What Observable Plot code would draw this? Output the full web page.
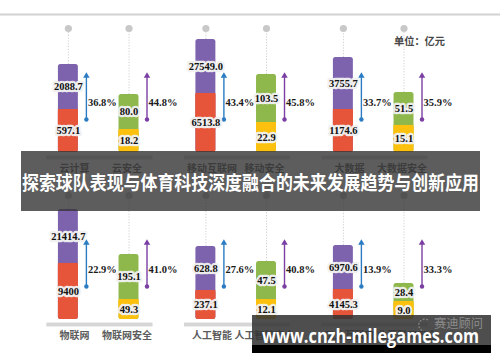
<!DOCTYPE html>
<html>
<head>
<meta charset="utf-8">
<script src="https://cdn.jsdelivr.net/npm/d3@7"></script>
<script src="https://cdn.jsdelivr.net/npm/@observablehq/plot@0.6"></script>
<style>
  html, body { margin: 0; padding: 0; background: #fff; }
  #wrap { position: relative; width: 500px; height: 362px; overflow: hidden; background: #fff; }
  #wrap > svg { display: block; position: absolute; left: 0; top: 0; }
</style>
</head>
<body>
<div id="wrap"></div>
<script>
// ---- data ----
const categories = ["云计算", "云安全", "移动互联网", "移动安全", "大数据", "大数据安全",
                    "物联网", "物联网安全", "人工智能", "人工智能安全", "工业互联网", "工业互联网安全"];
// current-year market size (亿元), as printed
const baseLabels = ["597.1", "18.2", "6513.8", "22.9", "1174.6", "15.1",
                    "9400", "49.3", "237.1", "12.1", "4145.3", "9.0"];
// forecast market size (亿元), as printed
const forecastLabels = ["2088.7", "80.0", "27549.0", "103.5", "3755.7", "51.5",
                        "21414.7", "195.1", "628.8", "47.5", "6970.6", "28.4"];
// compound growth rate (%)
const growthRates = [36.8, 44.8, 43.4, 45.8, 33.7, 35.9, 22.9, 41.0, 27.6, 40.8, 13.9, 33.3];
// bar segment lengths as drawn (the infographic is not to scale; 100 = marker level)
const lowerLength = [34.7, 18.5, 47.6, 24.2, 34.7, 21.8, 45.2, 16.1, 23.4, 16.1, 24.2, 14.5];
const totalLength = [71.0, 46.8, 91.1, 62.9, 76.6, 48.4, 88.7, 52.4, 58.9, 46.8, 59.7, 29.0];

const Y_MAX = 100;          // level of the grey marker dots
const ARROW_LOW = 26.6, ARROW_HIGH = 61.3, GROWTH_Y = 40.3;

const table = categories.map((name, i) => ({
  name,
  row: Math.floor(i / 6),
  pair: Math.floor((i % 6) / 2),
  kind: i % 2 ? "sec" : "main",
  base: baseLabels[i],
  forecast: forecastLabels[i],
  growth: growthRates[i],
  lowLen: lowerLength[i],
  topLen: totalLength[i]
}));

const valueFont = {fontFamily: "Liberation Serif", fontWeight: "bold", fontSize: 10.5, fill: "#111"};
const barInset = {insetLeft: 17.3, insetRight: 17.3};

const chart = Plot.plot({
  width: 500, height: 362,
  marginTop: 28, marginBottom: 43, marginLeft: 34.55, marginRight: 63.15,
  facet: {data: table, x: "pair", y: "row"},
  fx: {domain: [0, 1, 2], paddingInner: 0.0742, paddingOuter: 0, round: false, axis: null, label: null},
  fy: {domain: [0, 1], paddingInner: 0.2575, paddingOuter: 0, round: false, axis: null, label: null},
  x: {domain: ["main", "sec"], padding: 0.1, round: false, axis: null},
  y: {domain: [0, Y_MAX], axis: null},
  color: {
    domain: ["main-low", "main-high", "sec-low", "sec-high", "main-arrow", "sec-arrow"],
    range: ["#e6553a", "#7d62ae", "#fcc10f", "#8fb84c", "#2b7cc3", "#7b3fa3"]
  },
  style: {background: "transparent", overflow: "visible"},
  marks: [
    Plot.ruleY(table, {y: 0, dy: 5, stroke: "#d6d6d6", strokeWidth: 3.5, insetLeft: 12, insetRight: 9.5}),
    Plot.ruleX(table, {x: "kind", y1: "topLen", y2: Y_MAX, stroke: "#cfcfcf", strokeWidth: 1, strokeDasharray: "1.2,1.6"}),
    Plot.dot(table, {x: "kind", y: Y_MAX, r: 3.6, fill: "#c8c8c8"}),
    // full bar in the forecast colour (rounded ends), then the current-year segment over it
    Plot.barY(table, {x: "kind", y1: 0, y2: "topLen", fill: d => d.kind + "-high", rx: 2.5, ...barInset}),
    Plot.barY(table, {x: "kind", y1: 0, y2: "lowLen", fill: d => d.kind + "-low", rx: 2.5, ...barInset}),
    Plot.barY(table, {x: "kind", y1: d => d.lowLen / 2, y2: "lowLen", fill: d => d.kind + "-low", ...barInset}),
    Plot.ruleX(table, {x: "kind", dx: 18, y1: ARROW_LOW, y2: ARROW_HIGH, stroke: d => d.kind + "-arrow", strokeWidth: 1.4}),
    Plot.dot(table, {x: "kind", dx: 18, dy: -0.5, y: ARROW_HIGH, symbol: "triangle", r: 2.4, fill: d => d.kind + "-arrow"}),
    Plot.dot(table, {x: "kind", dx: 18, y: ARROW_LOW, r: 2.2, fill: d => d.kind + "-arrow"}),
    Plot.text(table, {x: "kind", y: d => d.lowLen / 2, text: "base", ...valueFont,
      stroke: "#f1f1f1", strokeWidth: 4.5, strokeOpacity: 0.95}),
    Plot.text(table, {x: "kind", y: d => (d.lowLen + d.topLen) / 2, text: "forecast", ...valueFont,
      stroke: "#f1f1f1", strokeWidth: 4.5, strokeOpacity: 0.95}),
    Plot.text(table, {x: "kind", dx: 19.5, y: GROWTH_Y, text: d => d.growth.toFixed(1) + "%",
      textAnchor: "start", ...valueFont, fill: "#1a1a1a"}),
    Plot.text(table, {filter: d => d.kind === "main", x: "kind", dx: 6, y: 0, dy: 16, text: "name",
      fontFamily: "Noto Sans CJK SC", fontWeight: "bold", fontSize: 10, fill: "#5c5c5c"}),
    Plot.text(table, {filter: d => d.kind === "sec", x: "kind", dx: -2, y: 0, dy: 16, text: "name",
      fontFamily: "Noto Sans CJK SC", fontWeight: "bold", fontSize: 10, fill: "#5c5c5c"})
  ]
});

const wrap = document.getElementById("wrap");
wrap.appendChild(chart);

// ---- overlays: header rule, unit note, banner title, watermark ----
const NS = "http://www.w3.org/2000/svg";
const ov = document.createElementNS(NS, "svg");
ov.setAttribute("width", 500); ov.setAttribute("height", 362);
function el(tag, attrs, text) {
  const e = document.createElementNS(NS, tag);
  for (const k in attrs) e.setAttribute(k, attrs[k]);
  if (text) e.textContent = text;
  ov.appendChild(e);
  return e;
}
el("rect", {x: 0, y: 13.5, width: 500, height: 2, fill: "#d2d2d2"});
el("text", {x: 394, y: 44.5, "font-family": "Noto Sans CJK SC", "font-weight": "bold", "font-size": 10.5,
  fill: "#474747", textLength: 51, lengthAdjust: "spacingAndGlyphs"}, "单位：亿元");
el("rect", {x: 21, y: 151, width: 459, height: 60, fill: "rgb(52,52,52)", "fill-opacity": 0.8});
el("text", {x: 22, y: 190, "font-family": "Noto Sans CJK SC", "font-weight": "bold", "font-size": 19,
  fill: "#fff", textLength: 457, lengthAdjust: "spacingAndGlyphs"}, "探索球队表现与体育科技深度融合的未来发展趋势与创新应用");
el("rect", {x: 252, y: 315, width: 239, height: 30, fill: "rgb(52,52,52)", "fill-opacity": 0.87});
el("rect", {x: 252, y: 345, width: 239, height: 8, fill: "#000"});
el("path", {d: "M 428 320 A 6 6 0 1 0 424 331", fill: "none", stroke: "#8a8a8a", "stroke-width": 1.2, "stroke-dasharray": "2,1.5"});
el("text", {x: 434, y: 328, "font-family": "Noto Sans CJK SC", "font-size": 12, fill: "#8c8c8c",
  textLength: 49, lengthAdjust: "spacingAndGlyphs"}, "赛迪顾问");
el("text", {x: 262, y: 343, "font-family": "Open Sans", "font-weight": "bold", "font-size": 19.5,
  fill: "#fff", textLength: 217, lengthAdjust: "spacingAndGlyphs"}, "www.cnzh-milegames.com");
wrap.appendChild(ov);
</script>
</body>
</html>
